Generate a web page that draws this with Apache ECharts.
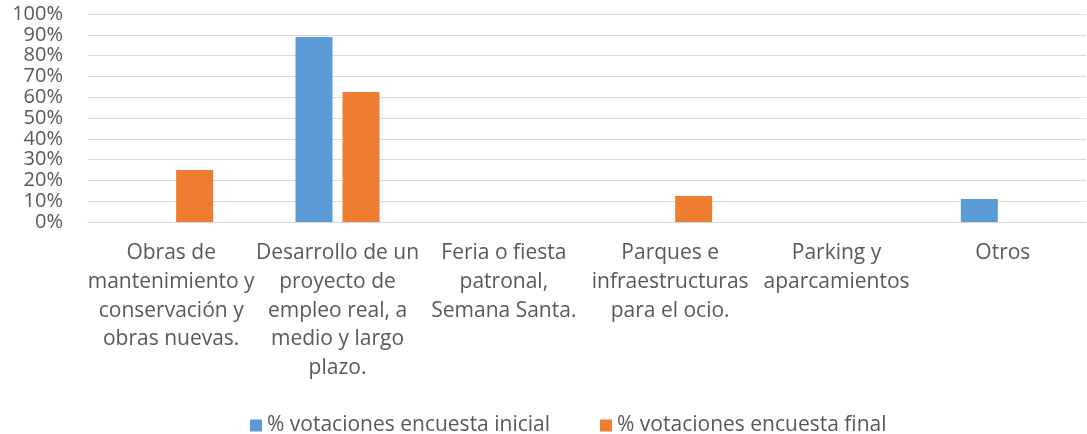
<!DOCTYPE html>
<html lang="es">
<head>
    <meta charset="UTF-8">
    <title>Votaciones encuesta</title>
    <script src="https://cdn.jsdelivr.net/npm/echarts@6/dist/echarts.min.js"></script>
    <style>
        html, body { margin: 0; padding: 0; background: #fff; }
        #graph { width: 1087px; height: 434px; }
    </style>
</head>
<body>
<div id="graph"></div>
<script>
    var categorias = [
        'Obras de\nmantenimiento y\nconservación y\nobras nuevas.',
        'Desarrollo de un\nproyecto de\nempleo real, a\nmedio y largo\nplazo.',
        'Feria o fiesta\npatronal,\nSemana Santa.',
        'Parques e\ninfraestructuras\npara el ocio.',
        'Parking y\naparcamientos',
        'Otros'
    ];
    var inicial = [0, 88.89, 0, 0, 0, 11.11];
    var final = [25, 62.5, 0, 12.5, 0, 0];
    var nombres = ['% votaciones encuesta inicial', '% votaciones encuesta final'];

    var fuente = 'Open Sans';
    var myChart = echarts.init(document.getElementById('graph'));
    var option = {
        animation: false,
        color: ['#5b9bd5', '#ed7d31'],
        grid: { left: 88, right: 1, top: 14, bottom: 212 },
        legend: {
            top: 410,
            left: 245,
            itemWidth: 12,
            itemHeight: 12,
            itemGap: 50,
            icon: 'rect',
            textStyle: { color: '#595959', fontSize: 21, fontFamily: fuente },
            data: nombres
        },
        xAxis: {
            type: 'category',
            data: categorias,
            axisLine: { lineStyle: { color: '#d9d9d9' } },
            axisTick: { show: false },
            axisLabel: {
                interval: 0,
                color: '#595959',
                fontSize: 21,
                lineHeight: 28.7,
                fontFamily: fuente,
                margin: 17
            }
        },
        yAxis: {
            type: 'value',
            min: 0,
            max: 100,
            interval: 10,
            axisLine: { show: false },
            axisTick: { show: false },
            splitLine: { lineStyle: { color: '#d9d9d9', width: 1 } },
            axisLabel: {
                color: '#595959',
                fontSize: 20,
                fontFamily: fuente,
                margin: 25,
                formatter: '{value}%'
            }
        },
        series: [
            { name: nombres[0], type: 'bar', data: inicial, barWidth: 37, barGap: '27%' },
            { name: nombres[1], type: 'bar', data: final, barWidth: 37, barGap: '27%' }
        ]
    };
    myChart.setOption(option);
</script>
</body>
</html>
